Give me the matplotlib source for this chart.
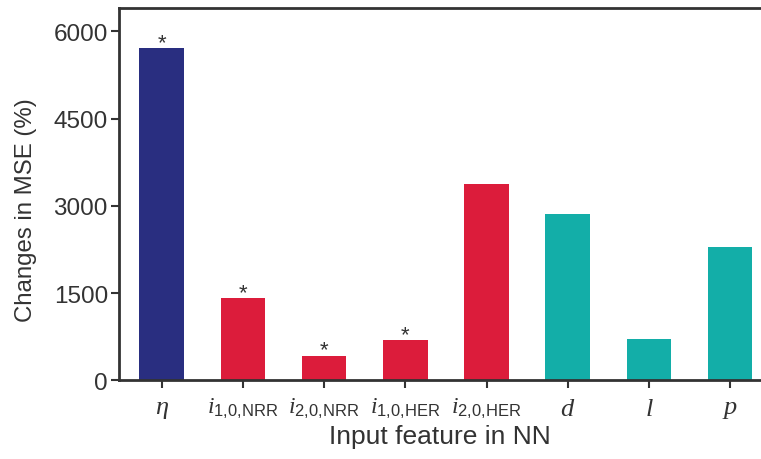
import matplotlib
matplotlib.use("Agg")
import matplotlib.pyplot as plt
import numpy as np

plt.rcParams['font.family'] = ['Liberation Sans', 'DejaVu Sans']
plt.rcParams['mathtext.fontset'] = 'custom'
plt.rcParams['mathtext.it'] = 'Liberation Serif:italic'
plt.rcParams['mathtext.rm'] = 'Liberation Sans'

# data
features = [r'$\eta$', r'$i_{\mathrm{1{,}0{,}NRR}}$', r'$i_{\mathrm{2{,}0{,}NRR}}$',
            r'$i_{\mathrm{1{,}0{,}HER}}$', r'$i_{\mathrm{2{,}0{,}HER}}$',
            r'$d$', r'$l$', r'$p$']
mse_change = [5710, 1415, 425, 690, 3380, 2865, 715, 2290]
significant = [True, True, True, True, False, False, False, False]
groups = ['navy', 'red', 'red', 'red', 'red', 'teal', 'teal', 'teal']

palette = {'navy': '#292e80', 'red': '#dc1c3b', 'teal': '#13aea8'}
ink = '#333333'

fig = plt.figure(figsize=(7.61, 4.60), dpi=100)
ax = fig.add_axes([0.1564, 0.1707, 0.8436, 0.8097])

x = np.arange(len(features))
ax.bar(x, mse_change, width=0.55, color=[palette[g] for g in groups], zorder=2)

for xi, v, s in zip(x, mse_change, significant):
    if s:
        ax.text(xi, v - 80, '*', ha='center', va='bottom', fontsize=16, color=ink)

ax.set_xlim(-0.525, 7.38)
ax.set_ylim(0, 6400)
ax.set_yticks([0, 1500, 3000, 4500, 6000])
ax.set_xticks(x)
ax.set_xticklabels(features, fontsize=19)
# labels carrying a subscript are set a little smaller
for lab in ax.get_xticklabels():
    if '_' in lab.get_text():
        lab.set_fontsize(17)
ax.tick_params(axis='y', labelsize=17.5, colors=ink, length=6, width=1.5, pad=2)
ax.tick_params(axis='x', colors=ink, length=6, width=1.5, pad=5)

for side in ['left', 'top', 'bottom']:
    ax.spines[side].set_color(ink)
    ax.spines[side].set_linewidth(2)
ax.spines['right'].set_visible(False)

ax.set_ylabel('Changes in MSE (%)', fontsize=17.3, color=ink)
ax.yaxis.set_label_coords(-0.128, 0.46)
ax.set_xlabel('Input feature in NN', fontsize=19, color=ink, labelpad=3)

fig.savefig('out.png', dpi=100)
